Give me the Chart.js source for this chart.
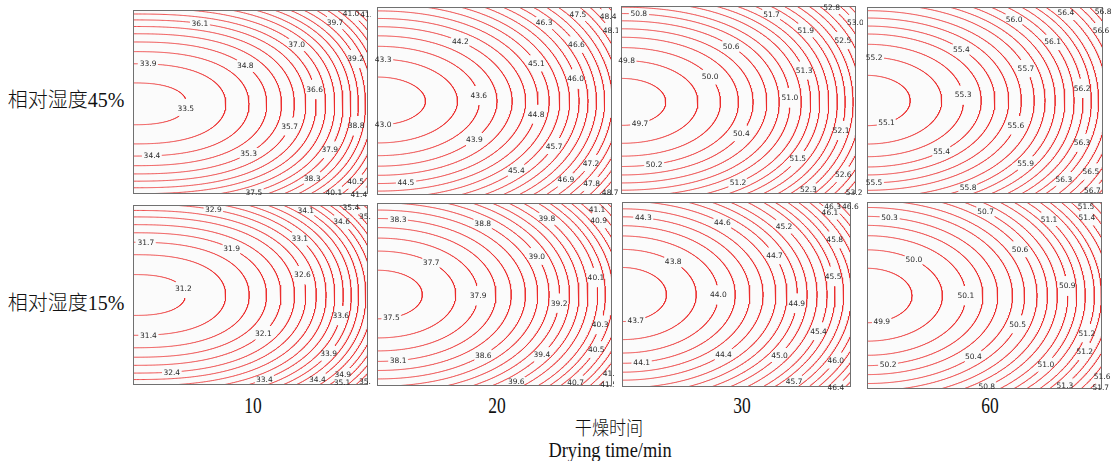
<!DOCTYPE html>
<html>
<head>
<meta charset="utf-8">
<script src="https://cdn.jsdelivr.net/npm/chart.js@4.4.1/dist/chart.umd.min.js"></script>
<style>
  body { margin: 0; background: #fff; width: 1114px; height: 461px; position: relative; overflow: hidden; }
  canvas { position: absolute; }
  .txt { position: absolute; white-space: nowrap; color: #111; transform: translate(-50%, -50%);
         font-family: "Liberation Serif", "Noto Sans CJK SC", serif; line-height: 1; }
  .light { font-weight: 300; }
</style>
</head>
<body>
<div id="texts"></div>
<script>
// Column factor: drying time (min); row factor: relative humidity (%)
const dryingTimes = [10, 20, 30, 60];
const humidityRows = [45, 15];

// Contour levels of each response surface, innermost (lowest) first
const levelsRH45_10 = [33.50, 33.94, 34.38, 34.82, 35.26, 35.70, 36.14, 36.57, 37.01, 37.46, 37.89, 38.33, 38.77, 39.21, 39.66, 40.09, 40.53, 40.97, 41.40, 41.84];
const levelsRH45_20 = [43.0, 43.3, 43.6, 43.9, 44.2, 44.5, 44.8, 45.1, 45.4, 45.7, 46.0, 46.3, 46.6, 46.9, 47.2, 47.5, 47.8, 48.1, 48.4, 48.7];
const levelsRH45_30 = [49.66, 49.84, 50.03, 50.22, 50.40, 50.59, 50.78, 50.96, 51.16, 51.34, 51.52, 51.71, 51.90, 52.08, 52.27, 52.46, 52.64, 52.83, 53.02, 53.20];
const levelsRH45_60 = [55.09, 55.18, 55.27, 55.36, 55.44, 55.53, 55.62, 55.72, 55.81, 55.90, 55.99, 56.08, 56.17, 56.26, 56.34, 56.44, 56.53, 56.62, 56.71, 56.80];
const levelsRH15_10 = [31.16, 31.41, 31.66, 31.90, 32.14, 32.40, 32.64, 32.89, 33.14, 33.38, 33.63, 33.88, 34.12, 34.37, 34.62, 34.87, 35.11, 35.36, 35.61, 35.86];
const levelsRH15_20 = [37.50, 37.71, 37.92, 38.13, 38.34, 38.56, 38.77, 38.98, 39.19, 39.40, 39.61, 39.82, 40.06, 40.26, 40.47, 40.68, 40.89, 41.10, 41.31, 41.52];
const levelsRH15_30 = [43.66, 43.81, 43.97, 44.12, 44.27, 44.42, 44.58, 44.73, 44.88, 45.03, 45.19, 45.36, 45.50, 45.66, 45.81, 45.97, 46.12, 46.27, 46.42, 46.58];
const levelsRH15_60 = [49.94, 50.03, 50.13, 50.22, 50.31, 50.41, 50.50, 50.60, 50.69, 50.78, 50.88, 50.97, 51.06, 51.16, 51.24, 51.34, 51.43, 51.53, 51.62, 51.72];

const panelLevels = [levelsRH45_10, levelsRH45_20, levelsRH45_30, levelsRH45_60,
                     levelsRH15_10, levelsRH15_20, levelsRH15_30, levelsRH15_60];

// ---- layout ----
// plot frame of every panel: [left, top, width, height] in page pixels, row by row
const panelFrames = [
  [133, 10, 235, 184], [377, 7, 235, 188], [621, 6, 235, 188], [867, 7, 236, 187],
  [133, 205, 235, 180], [377, 203, 235, 183], [622, 202, 229, 185], [867, 202, 235, 187]
];
// canvas margin kept to the right of each frame (labels spilling over get cut there)
const rightMargins = [3, 6, 7, 12, 3, 2, 8, 12];
// where each level's inline label sits, in pixels from the frame's top-left corner
const labelSpots = [
  [[54.3,99.3],[15.3,53.3],[18.7,146],[111.3,56.7],[115.3,142.7],[156.3,116.7],[67,14],[182,79.3],[163,35],[121,182.7],[197,140],[179.7,169],[223.7,116],[222,49.3],[202,12.7],[201,183.3],[223,172.7],[217,5],[226.3,185],[235.3,5]],
  [[6.3,119.7],[6.3,53],[99.7,88.7],[98,133],[83,35.7],[29,175.3],[158.7,107.3],[159,56.3],[139.7,164],[178,139.7],[198.7,72],[167,16.3],[199.7,37.3],[189.7,174],[214.7,157],[200.3,8],[214.7,177.3],[233,24.7],[231.3,9],[233,185.7]],
  [[19,117.3],[5.7,53.3],[89,70.7],[33.3,158],[120,127.3],[109.7,40.7],[18,7.3],[168.3,91.7],[116.7,175.7],[183,64.7],[176.7,153],[150.7,8.3],[184.7,24],[220.7,125],[187.3,183.3],[222.3,34],[222.3,168.3],[210.7,1.3],[234,16.7],[233.3,186.7]],
  [[19.7,116.3],[7,51.3],[96.3,88],[74.7,144.7],[94.7,41.3],[7,176.3],[149.7,119],[158.7,61.3],[101.3,180.7],[158.7,156.3],[147,12.3],[185.3,35.3],[214.7,81.3],[215.3,135.7],[197,172.3],[198.7,6.3],[223.7,165.3],[234,24],[225.3,184],[236.3,4.7]],
  [[52,82.3],[15.3,131],[13,37.7],[97.7,45],[129.7,127.7],[38.7,167.3],[169.3,70],[80.3,4.7],[166.3,34],[131.3,174.3],[208,110.7],[196,149],[173,4.7],[184.3,174.3],[208.7,16.7],[210.3,170],[209.3,177.7],[217.7,3.3],[234.3,10.7],[233.7,176]],
  [[14.7,117],[53.7,60.3],[99.7,92.7],[21.3,158],[21.3,17],[106.3,152],[105.3,21.3],[158.7,53.7],[182.3,100.3],[165.3,152],[139.7,179.3],[169.7,16],[218.7,74.7],[223.7,122],[220.3,147],[199,179.7],[222.3,17],[220.7,6],[232.3,169.3],[231.3,181.3]],
  [[13.7,118],[51.3,59.7],[95.7,93],[19.7,160.3],[21.3,16.3],[102,153.7],[100.3,21.3],[153,53],[174.7,101.3],[158.7,154],[162,24.7],[195.3,129],[212.3,74],[172,180.3],[212.3,38],[213,158],[208,10.3],[209.7,5.3],[213.7,185.3],[229,3.7]],
  [[14.7,118.7],[47,57.3],[99,93.7],[21.3,162],[22.3,15.7],[106.3,154.7],[151.3,123],[153,47],[118.7,9],[119.7,184.7],[200.3,84],[178.7,162.3],[182.3,17],[219,131.3],[218,149.7],[198,183.7],[220.3,15.7],[219,4.7],[235.3,174],[233.7,185.3]]
];

const LINE_COLOR = 'rgba(236, 40, 40, 0.82)';
const PANEL_BG = '#fbfbfb';
const FRAME_COLOR = '#707070';
const LABEL_FONT = '7.5px "DejaVu Sans"';
const SAMPLES = 800;

// ---- page text ----
const textItems = [
  { t: '相对湿度' + humidityRows[0] + '%', x: 66, y: 100, size: 20, sx: 1, cls: 'light' },
  { t: '相对湿度' + humidityRows[1] + '%', x: 66, y: 303, size: 20, sx: 1, cls: 'light' },
  { t: String(dryingTimes[0]), x: 253, y: 405, size: 23, sx: 0.76, cls: '' },
  { t: String(dryingTimes[1]), x: 497, y: 405, size: 23, sx: 0.76, cls: '' },
  { t: String(dryingTimes[2]), x: 742, y: 405, size: 23, sx: 0.76, cls: '' },
  { t: String(dryingTimes[3]), x: 990, y: 405, size: 23, sx: 0.76, cls: '' },
  { t: '干燥时间', x: 609, y: 428, size: 19, sx: 0.9, cls: 'light' },
  { t: 'Drying time/min', x: 610, y: 450, size: 20, sx: 0.92, cls: '' }
];
const textHost = document.getElementById('texts');
textItems.forEach(it => {
  const d = document.createElement('div');
  d.className = 'txt ' + it.cls;
  d.style.left = it.x + 'px';
  d.style.top = it.y + 'px';
  d.style.fontSize = it.size + 'px';
  d.style.transform = 'translate(-50%, -50%) scaleX(' + it.sx + ')';
  d.textContent = it.t;
  textHost.appendChild(d);
});

// ---- response surface z = z0 + a*u^p + b*|w|^q + c*u^p*|w|^q, w = v - vc,
//      fitted by weighted least squares to the labelled points of every panel ----
function solveLinear(A, r) {
  const n = r.length;
  const M = A.map((row, i) => [...row, r[i]]);
  for (let c = 0; c < n; c++) {
    let piv = c;
    for (let k = c + 1; k < n; k++) if (Math.abs(M[k][c]) > Math.abs(M[piv][c])) piv = k;
    if (Math.abs(M[piv][c]) < 1e-12) return null;
    [M[c], M[piv]] = [M[piv], M[c]];
    for (let k = 0; k < n; k++) {
      if (k === c) continue;
      const f = M[k][c] / M[c][c];
      for (let j = c; j <= n; j++) M[k][j] -= f * M[c][j];
    }
  }
  return M.map((row, i) => row[n] / row[i]);
}

function fitSurface(pts, lowest) {
  let best = null;
  for (let pi = 0; pi <= 18; pi++) {
    const p = 1.6 + pi * 0.1;
    for (let qi = 0; qi <= 16; qi++) {
      const q = 1.4 + qi * 0.1;
      for (let ci = -5; ci <= 5; ci++) {
        const vc = ci * 0.02;
        const S = [[0,0,0,0],[0,0,0,0],[0,0,0,0],[0,0,0,0]], r = [0,0,0,0];
        const rows = pts.map(t => {
          const U = Math.pow(t.u, p), Wq = Math.pow(Math.abs(t.v - vc), q);
          return [1, U, Wq, U * Wq];
        });
        rows.forEach((f, k) => {
          const wt = pts[k].wt;
          for (let i = 0; i < 4; i++) {
            r[i] += wt * f[i] * pts[k].z;
            for (let j = 0; j < 4; j++) S[i][j] += wt * f[i] * f[j];
          }
        });
        const sol = solveLinear(S, r);
        if (!sol) continue;
        const [z0, a, b, c] = sol;
        if (a <= 0 || b <= 0 || z0 >= lowest) continue;
        if (a + c * Math.pow(1.3, q) <= 0) continue;
        let sse = 0;
        rows.forEach((f, k) => {
          const e = z0 + a * f[1] + b * f[2] + c * f[3] - pts[k].z;
          sse += pts[k].wt * e * e;
        });
        if (!best || sse < best.sse) best = { z0, a, b, c, p, q, vc, sse };
      }
    }
  }
  return best;
}

// points of one level curve; u runs across the frame (0..1), v down the frame (-1..1)
function levelCurve(s, L) {
  const d = L - s.z0;
  if (d <= 0) return [];
  const Wmax = Math.pow(d / s.b, 1 / s.q);
  const out = [];
  for (let i = 0; i <= SAMPLES; i++) {
    const th = -Math.PI / 2 + Math.PI * i / SAMPLES;
    const sn = Math.sin(th);
    const w = Wmax * Math.sign(sn) * Math.pow(Math.abs(sn), 2 / s.q);
    const Wq = Math.pow(Math.abs(w), s.q);
    const num = Math.max(0, d - s.b * Wq);
    const den = s.a + s.c * Wq;
    const u = den > 1e-9 ? Math.pow(num / den, 1 / s.p) : 4;
    out.push({ u: Math.min(u, 4), v: s.vc + w });
  }
  return out;
}

const measureCtx = document.createElement('canvas').getContext('2d');
measureCtx.font = LABEL_FONT;

// draws the panel fill, the frame and the inline level labels
const panelDecor = {
  id: 'panelDecor',
  beforeDatasetsDraw(chart) {
    const a = chart.chartArea, ctx = chart.ctx;
    ctx.save();
    ctx.fillStyle = PANEL_BG;
    ctx.fillRect(a.left, a.top, a.right - a.left, a.bottom - a.top);
    ctx.restore();
  },
  afterDatasetsDraw(chart, args, opts) {
    const a = chart.chartArea, ctx = chart.ctx;
    ctx.save();
    ctx.strokeStyle = FRAME_COLOR;
    ctx.lineWidth = 1;
    ctx.strokeRect(a.left + 0.5, a.top + 0.5, a.right - a.left - 1, a.bottom - a.top - 1);
    ctx.font = LABEL_FONT;
    ctx.fillStyle = '#2a2a2a';
    ctx.textAlign = 'center';
    ctx.textBaseline = 'middle';
    const xs = chart.scales.x, ys = chart.scales.y;
    (opts.labels || []).forEach(l => {
      ctx.fillText(l.text, xs.getPixelForValue(l.x), ys.getPixelForValue(l.y) + 0.5);
    });
    ctx.restore();
  }
};

panelFrames.forEach((fr, idx) => {
  const [left, top, W, H] = fr;
  const levels = panelLevels[idx];
  const spots = labelSpots[idx];
  // inner levels weigh more: they shape the open middle of the panel
  const pts = spots.map((s, i) => ({
    u: Math.max(0, s[0] / W), v: (s[1] - H / 2) / (H / 2), z: levels[i],
    wt: 1 + 3 * Math.exp(-i / 2)
  }));
  const surf = fitSurface(pts, levels[0]);

  const datasets = [];
  const labels = [];
  levels.forEach((L, k) => {
    const curve = levelCurve(surf, L);
    const text = L.toFixed(1);
    // put the label on its own curve, next to the chosen spot
    const [hx, hy] = spots[k];
    let bestI = 0, bestD = Infinity;
    curve.forEach((c, i) => {
      const px = c.u * W, py = (1 + c.v) * H / 2;
      const dd = (px - hx) ** 2 + (py - hy) ** 2;
      if (dd < bestD) { bestD = dd; bestI = i; }
    });
    const lab = curve[bestI];
    const lx = lab.u * W, ly = (1 + lab.v) * H / 2;
    const gap = measureCtx.measureText(text).width / 2 + 1.5;
    labels.push({ x: lab.u, y: -lab.v, text });
    const data = curve.map(c => {
      const px = c.u * W, py = (1 + c.v) * H / 2;
      const inGap = Math.hypot(px - lx, py - ly) < gap;
      return { x: c.u, y: inGap ? null : -c.v };
    });
    datasets.push({
      data, showLine: true, pointRadius: 0, borderColor: LINE_COLOR, borderWidth: 1,
      tension: 0, spanGaps: false, fill: false
    });
  });

  const padL = 6, padT = 6, padB = 6, padR = rightMargins[idx];
  const cv = document.createElement('canvas');
  cv.width = W + padL + padR;
  cv.height = H + padT + padB;
  cv.style.left = (left - padL) + 'px';
  cv.style.top = (top - padT) + 'px';
  document.body.appendChild(cv);

  new Chart(cv, {
    type: 'scatter',
    data: { datasets },
    options: {
      responsive: false,
      animation: false,
      devicePixelRatio: 1,
      events: [],
      layout: { padding: { left: padL, right: padR, top: padT, bottom: padB } },
      scales: {
        x: { type: 'linear', min: 0, max: 1, display: false },
        y: { type: 'linear', min: -1, max: 1, display: false }
      },
      plugins: {
        legend: { display: false },
        tooltip: { enabled: false },
        panelDecor: { labels }
      }
    },
    plugins: [panelDecor]
  });
});
</script>
</body>
</html>
